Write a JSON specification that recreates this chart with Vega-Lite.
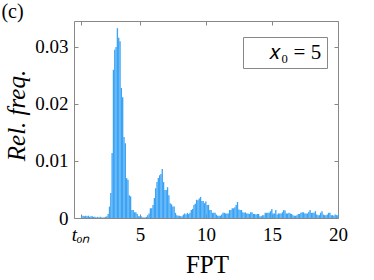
{
  "$schema": "https://vega.github.io/schema/vega-lite/v6.json",
  "width": 264,
  "height": 197,
  "autosize": {"type": "none"},
  "padding": {"left": 74, "top": 21, "right": 36, "bottom": 62},
  "background": "white",
  "config": {"view": {"stroke": null}},
  "data": {"values": [
    {"t":0.5,"f":0.0003},{"t":0.6,"f":0.0004},{"t":0.7,"f":0.0003},{"t":0.8,"f":0.0004},{"t":0.9,"f":0.0003},
    {"t":1.0,"f":0.0004},{"t":1.1,"f":0.0002},{"t":1.2,"f":0.0003},{"t":1.3,"f":0.0003},{"t":1.4,"f":0.0002},
    {"t":1.5,"f":0.0002},{"t":1.6,"f":0.0001},{"t":1.7,"f":0.0002},{"t":1.8,"f":0.0001},{"t":1.9,"f":0.0002},
    {"t":2.0,"f":0.0001},{"t":2.1,"f":0.0001},{"t":2.2,"f":0.0001},{"t":2.3,"f":0.0002},{"t":2.4,"f":0.0003},
    {"t":2.5,"f":0.0007},{"t":2.6,"f":0.002},{"t":2.7,"f":0.0044},{"t":2.8,"f":0.0114},{"t":2.9,"f":0.026},
    {"t":3.0,"f":0.0295},{"t":3.1,"f":0.030},{"t":3.2,"f":0.0333},{"t":3.3,"f":0.0316},{"t":3.4,"f":0.031},
    {"t":3.5,"f":0.0228},{"t":3.6,"f":0.0212},{"t":3.7,"f":0.0142},{"t":3.8,"f":0.0131},{"t":3.9,"f":0.007},
    {"t":4.0,"f":0.0067},{"t":4.1,"f":0.004},{"t":4.2,"f":0.0038},{"t":4.3,"f":0.0014},{"t":4.4,"f":0.0014},
    {"t":4.5,"f":0.001},{"t":4.6,"f":0.001},{"t":4.7,"f":0.0007},{"t":4.8,"f":0.0003},{"t":4.9,"f":0.0003},
    {"t":5.0,"f":0.0003},{"t":5.1,"f":0.0001},{"t":5.2,"f":0.0001},{"t":5.3,"f":0.0001},{"t":5.4,"f":0.0002},
    {"t":5.5,"f":0.0005},{"t":5.6,"f":0.0008},{"t":5.7,"f":0.0017},{"t":5.8,"f":0.0017},{"t":5.9,"f":0.0023},
    {"t":6.0,"f":0.0035},{"t":6.1,"f":0.0052},{"t":6.2,"f":0.0063},{"t":6.3,"f":0.007},{"t":6.4,"f":0.0075},
    {"t":6.5,"f":0.0077},{"t":6.6,"f":0.0086},{"t":6.7,"f":0.0063},{"t":6.8,"f":0.0049},{"t":6.9,"f":0.0049},
    {"t":7.0,"f":0.0054},{"t":7.1,"f":0.004},{"t":7.2,"f":0.0026},{"t":7.3,"f":0.0024},{"t":7.4,"f":0.002},
    {"t":7.5,"f":0.002},{"t":7.6,"f":0.0009},{"t":7.7,"f":0.0005},{"t":7.8,"f":0.0004},{"t":7.9,"f":0.0004},
    {"t":8.0,"f":0.0003},{"t":8.1,"f":0.0003},{"t":8.2,"f":0.0006},{"t":8.3,"f":0.0008},{"t":8.4,"f":0.0006},
    {"t":8.5,"f":0.0009},{"t":8.6,"f":0.0007},{"t":8.7,"f":0.0009},{"t":8.8,"f":0.0014},{"t":8.9,"f":0.0016},
    {"t":9.0,"f":0.0023},{"t":9.1,"f":0.0025},{"t":9.2,"f":0.0032},{"t":9.3,"f":0.0031},{"t":9.4,"f":0.0034},
    {"t":9.5,"f":0.0037},{"t":9.6,"f":0.003},{"t":9.7,"f":0.003},{"t":9.8,"f":0.0026},{"t":9.9,"f":0.0029},
    {"t":10.0,"f":0.0023},{"t":10.1,"f":0.0023},{"t":10.2,"f":0.0014},{"t":10.3,"f":0.0014},{"t":10.4,"f":0.0009},
    {"t":10.5,"f":0.0009},{"t":10.6,"f":0.0009},{"t":10.7,"f":0.0006},{"t":10.8,"f":0.0004},{"t":10.9,"f":0.0004},
    {"t":11.0,"f":0.0004},{"t":11.1,"f":0.0006},{"t":11.2,"f":0.0009},{"t":11.3,"f":0.0009},{"t":11.4,"f":0.0008},
    {"t":11.5,"f":0.0008},{"t":11.6,"f":0.0008},{"t":11.7,"f":0.0014},{"t":11.8,"f":0.0014},{"t":11.9,"f":0.0017},
    {"t":12.0,"f":0.0017},{"t":12.1,"f":0.0019},{"t":12.2,"f":0.0023},{"t":12.3,"f":0.0028},{"t":12.4,"f":0.0015},
    {"t":12.5,"f":0.0014},{"t":12.6,"f":0.0014},{"t":12.7,"f":0.001},{"t":12.8,"f":0.0009},{"t":12.9,"f":0.001},
    {"t":13.0,"f":0.0008},{"t":13.1,"f":0.0008},{"t":13.2,"f":0.0007},{"t":13.3,"f":0.001},{"t":13.4,"f":0.001},
    {"t":13.5,"f":0.0007},{"t":13.6,"f":0.0007},{"t":13.7,"f":0.0006},{"t":13.8,"f":0.0007},{"t":13.9,"f":0.0007},
    {"t":14.0,"f":0.0003},{"t":14.1,"f":0.0003},{"t":14.2,"f":0.0005},{"t":14.3,"f":0.0005},{"t":14.4,"f":0.0009},
    {"t":14.5,"f":0.0009},{"t":14.6,"f":0.0009},{"t":14.7,"f":0.0009},{"t":14.8,"f":0.0012},{"t":14.9,"f":0.0016},
    {"t":15.0,"f":0.0008},{"t":15.1,"f":0.0008},{"t":15.2,"f":0.0014},{"t":15.3,"f":0.0006},{"t":15.4,"f":0.0008},
    {"t":15.5,"f":0.0008},{"t":15.6,"f":0.0008},{"t":15.7,"f":0.001},{"t":15.8,"f":0.0014},{"t":15.9,"f":0.0013},
    {"t":16.0,"f":0.0008},{"t":16.1,"f":0.0008},{"t":16.2,"f":0.0009},{"t":16.3,"f":0.0008},{"t":16.4,"f":0.0007},
    {"t":16.5,"f":0.0005},{"t":16.6,"f":0.0004},{"t":16.7,"f":0.0004},{"t":16.8,"f":0.0005},{"t":16.9,"f":0.0007},
    {"t":17.0,"f":0.0007},{"t":17.1,"f":0.0009},{"t":17.2,"f":0.001},{"t":17.3,"f":0.001},{"t":17.4,"f":0.0008},
    {"t":17.5,"f":0.0008},{"t":17.6,"f":0.0008},{"t":17.7,"f":0.0011},{"t":17.8,"f":0.0014},{"t":17.9,"f":0.0009},
    {"t":18.0,"f":0.0009},{"t":18.1,"f":0.0009},{"t":18.2,"f":0.0012},{"t":18.3,"f":0.0006},{"t":18.4,"f":0.0005},
    {"t":18.5,"f":0.0005},{"t":18.6,"f":0.0009},{"t":18.7,"f":0.0012},{"t":18.8,"f":0.0006},{"t":18.9,"f":0.0005},
    {"t":19.0,"f":0.0005},{"t":19.1,"f":0.0006},{"t":19.2,"f":0.0009},{"t":19.3,"f":0.0009},{"t":19.4,"f":0.0005},
    {"t":19.5,"f":0.0005},{"t":19.6,"f":0.0004},{"t":19.7,"f":0.0006},{"t":19.8,"f":0.0005},{"t":19.9,"f":0.0005}
  ]},
  "layer": [
    {
      "mark": {"type": "bar", "fill": "#3aa3f5", "stroke": null, "binSpacing": 0},
      "encoding": {
        "x": {"field": "t", "type": "quantitative", "bin": {"binned": true, "step": 0.1},
          "scale": {"domain": [0, 20], "nice": false, "zero": false},
          "axis": {"orient": "bottom", "values": [0.5, 5, 10, 15, 20], "grid": false, "format": "~g",
            "labelExpr": "datum.value == 0.5 ? 'tₒₙ' : format(datum.value, '~g')",
            "labelFontStyle": {"condition": {"test": "datum.value == 0.5", "value": "italic"}, "value": "normal"},
            "labelFont": "Liberation Serif", "labelFontSize": 19, "labelColor": "black", "labelFlush": false,
            "labelBaseline": "alphabetic", "labelPadding": 26, "labelOverlap": false,
            "domainColor": "#888888", "tickColor": "#888888", "tickSize": -4,
            "title": "FPT", "titleFont": "Liberation Serif", "titleFontSize": 25, "titleFontWeight": "normal", "titleColor": "black",
            "titleX": 133, "titleY": 54, "titleBaseline": "alphabetic", "titleAlign": "center"}},
        "y": {"field": "f", "type": "quantitative",
          "scale": {"domain": [0, 0.03456], "nice": false},
          "axis": {"orient": "left", "values": [0, 0.01, 0.02, 0.03], "grid": false, "format": "~g",
            "labelFont": "Liberation Serif", "labelFontSize": 19, "labelColor": "black", "labelPadding": 10, "labelFlush": false,
            "domainColor": "#888888", "tickColor": "#888888", "tickSize": -4,
            "title": "Rel. freq.", "titleFont": "Liberation Serif", "titleFontSize": 25, "titleFontStyle": "italic", "titleFontWeight": "normal", "titleColor": "black",
            "titleX": -50, "titleY": 94, "titleAngle": -90, "titleAlign": "center", "titleBaseline": "alphabetic"}},
        "color": {"datum": "𝑥₀ = 5", "scale": {"range": ["#3aa3f5"]},
          "legend": {"orient": "none", "legendX": 169, "legendY": 16, "title": null,
            "fillColor": "white", "strokeColor": "#888888", "padding": 5,
            "symbolSize": 0, "symbolStrokeWidth": 0, "symbolOpacity": 0, "labelOffset": 0,
            "labelFont": "Liberation Serif", "labelFontSize": 21, "labelColor": "black"}}
      }
    },
    {
      "mark": {"type": "bar", "opacity": 0, "binSpacing": 0},
      "encoding": {
        "x": {"field": "t", "type": "quantitative", "bin": {"binned": true, "step": 0.1},
          "scale": {"domain": [0, 20], "nice": false, "zero": false},
          "axis": {"orient": "top", "values": [0.5, 5, 10, 15, 20], "labels": false, "grid": false,
            "domainColor": "#888888", "tickColor": "#888888", "tickSize": -4,
            "title": "(c)", "titleFont": "Liberation Serif", "titleFontSize": 20, "titleFontWeight": "normal", "titleColor": "black",
            "titleX": -62, "titleY": -4, "titleAlign": "center", "titleBaseline": "alphabetic", "titleAngle": 0}},
        "y": {"field": "f", "type": "quantitative",
          "scale": {"domain": [0, 0.03456], "nice": false},
          "axis": {"orient": "right", "values": [0, 0.01, 0.02, 0.03], "labels": false, "grid": false, "title": null,
            "domainColor": "#888888", "tickColor": "#888888", "tickSize": -4}}
      }
    }
  ],
  "resolve": {"axis": {"x": "independent", "y": "independent"}}
}
